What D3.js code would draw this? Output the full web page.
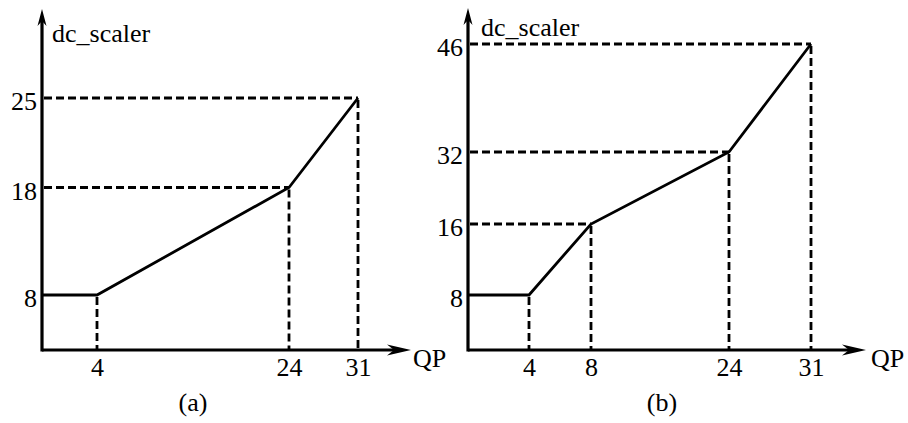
<!DOCTYPE html>
<html>
<head>
<meta charset="utf-8">
<script src="https://cdn.jsdelivr.net/npm/d3@7"></script>
<style>
  body { margin: 0; background: #fff; }
  svg { display: block; }
  text { font-family: "Liberation Serif", "Times New Roman", serif; font-size: 26px; fill: #000; }
</style>
</head>
<body>
<svg id="chart" width="908" height="423"></svg>
<script>
// Panel (a): dc_scaler as a function of QP
const qpA = [0, 4, 24, 31];
const dcA = [8, 8, 18, 25];
const xTicksA = [4, 24, 31];
const yTicksA = [8, 18, 25];

// Panel (b)
const qpB = [0, 4, 8, 24, 31];
const dcB = [8, 8, 16, 32, 46];
const xTicksB = [4, 8, 24, 31];
const yTicksB = [8, 16, 32, 46];

const panelLabels = ["(a)", "(b)"];
const xTitle = "QP";
const yTitle = "dc_scaler";

// Schematic (piecewise) placement of each panel's break points
const layouts = [
  { xRange: [42, 97, 289, 358], yRange: [350, 295, 187.5, 98],
    xEnd: 411, yTop: 9, yTitle: [52, 42], xTitleX: 413, labelX: 193 },
  { xRange: [468, 529, 591, 729, 811], yRange: [350, 295, 224, 152, 44],
    xEnd: 866, yTop: 8, yTitle: [481, 36], xTitleX: 871, labelX: 662 }
];

const panels = [
  { qp: qpA, dc: dcA, xTicks: xTicksA, yTicks: yTicksA, label: panelLabels[0] },
  { qp: qpB, dc: dcB, xTicks: xTicksB, yTicks: yTicksB, label: panelLabels[1] }
];

const svg = d3.select("#chart");

panels.forEach((p, k) => {
  const L = layouts[k];
  const x = d3.scaleLinear().domain([0, ...p.xTicks]).range(L.xRange);
  const y = d3.scaleLinear().domain([0, ...p.yTicks]).range(L.yRange);
  const g = svg.append("g");
  const x0 = x(0), y0 = y(0);
  const pts = p.qp.map((q, i) => ({ q, v: p.dc[i] }));

  // dashed guides from each break point to the axes
  const dash = g.append("g")
    .attr("stroke", "#000").attr("stroke-width", 2.8)
    .attr("stroke-dasharray", "8,4").attr("fill", "none");
  pts.slice(1).forEach(d => {
    dash.append("line")
      .attr("x1", x(d.q)).attr("y1", y(d.v) + 2)
      .attr("x2", x(d.q)).attr("y2", y0);
  });
  pts.slice(2).forEach(d => {
    dash.append("line")
      .attr("x1", x0 + 2).attr("y1", y(d.v))
      .attr("x2", x(d.q)).attr("y2", y(d.v));
  });

  // the curve itself
  g.append("path")
    .datum(pts)
    .attr("fill", "none").attr("stroke", "#000").attr("stroke-width", 2.8)
    .attr("stroke-linejoin", "miter")
    .attr("d", d3.line().x(d => x(d.q)).y(d => y(d.v)));

  // axes with arrowheads
  g.append("line")
    .attr("x1", x0).attr("y1", y0).attr("x2", L.xEnd - 16).attr("y2", y0)
    .attr("stroke", "#000").attr("stroke-width", 3.2);
  g.append("line")
    .attr("x1", x0).attr("y1", y0 + 1.6).attr("x2", x0).attr("y2", L.yTop + 10)
    .attr("stroke", "#000").attr("stroke-width", 3.2);
  g.append("path")
    .attr("d", `M${L.xEnd},${y0} L${L.xEnd - 24},${y0 - 5.5} L${L.xEnd - 17},${y0} L${L.xEnd - 24},${y0 + 5.5} Z`)
    .attr("fill", "#000");
  g.append("path")
    .attr("d", `M${x0},${L.yTop} L${x0 - 4.5},${L.yTop + 17} L${x0},${L.yTop + 12} L${x0 + 4.5},${L.yTop + 17} Z`)
    .attr("fill", "#000");

  // tick labels only (no tick marks)
  const ax = g.append("g").attr("transform", `translate(0,${y0})`)
    .call(d3.axisBottom(x).tickValues(p.xTicks).tickSize(0).tickPadding(8).tickFormat(d3.format("d")));
  const ay = g.append("g").attr("transform", `translate(${x0},0)`)
    .call(d3.axisLeft(y).tickValues(p.yTicks).tickSize(0).tickPadding(5).tickFormat(d3.format("d")));
  [ax, ay].forEach(a => {
    a.select(".domain").remove();
    a.attr("font-family", null).attr("font-size", null);
    a.selectAll("text").attr("fill", "#000");
  });
  ay.selectAll("text").attr("dy", "0.45em");

  // titles
  g.append("text").attr("x", L.yTitle[0]).attr("y", L.yTitle[1]).text(yTitle);
  g.append("text").attr("x", L.xTitleX).attr("y", y0 + 17).text(xTitle);
  g.append("text").attr("x", L.labelX).attr("y", 411).attr("text-anchor", "middle").text(p.label);
});
</script>
</body>
</html>
